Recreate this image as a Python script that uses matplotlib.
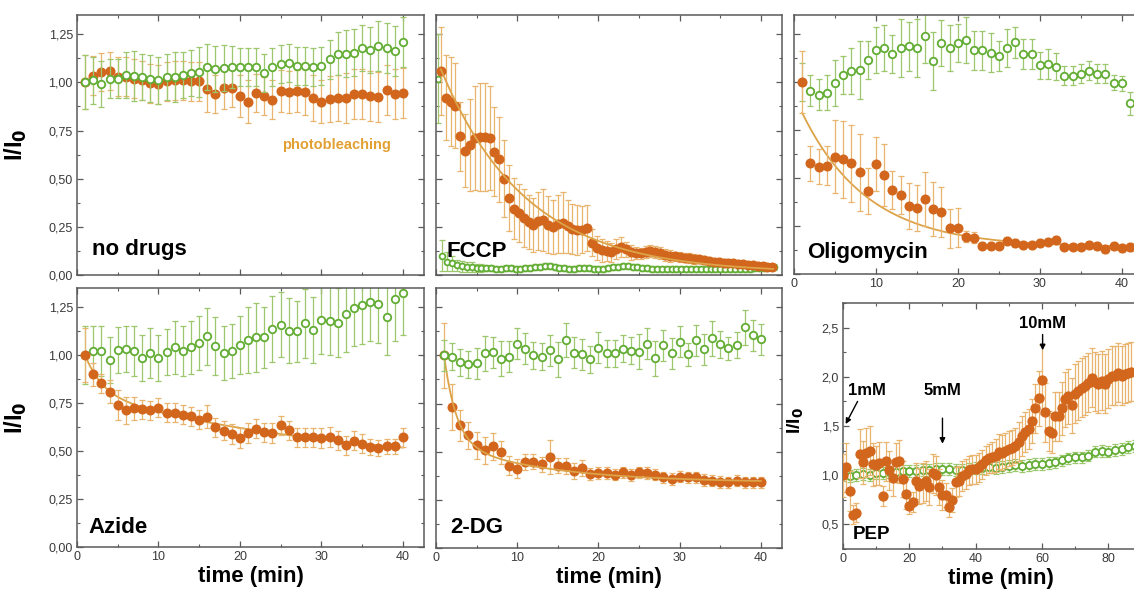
import numpy as np
import matplotlib
matplotlib.use("Agg")
import matplotlib.pyplot as plt
from matplotlib.ticker import MultipleLocator, FuncFormatter

plt.rcParams['font.family'] = ['Liberation Sans', 'DejaVu Sans']

ORANGE = '#d2661c'
ORANGE_ERR = '#e9b46e'
GREEN = '#62ad34'
GREEN_ERR = '#9cc76c'
FIT = '#dca348'
FRAME = '#5a5a5a'

# ---------------- data ----------------
t40 = np.arange(1, 41)

nodrug_green = [1.00, 1.01, 0.99, 1.02, 1.02, 1.04, 1.035, 1.03, 1.02, 1.01,
                1.03, 1.03, 1.04, 1.05, 1.055, 1.08, 1.07, 1.075, 1.08, 1.08,
                1.08, 1.08, 1.05, 1.08, 1.095, 1.10, 1.085, 1.085, 1.08, 1.085,
                1.12, 1.15, 1.15, 1.155, 1.18, 1.17, 1.19, 1.18, 1.165, 1.21]
nodrug_green_err = [0.14, 0.12, 0.12, 0.10, 0.10, 0.12, 0.13, 0.12, 0.12, 0.12,
                    0.12, 0.13, 0.12, 0.12, 0.13, 0.12, 0.12, 0.12, 0.11, 0.10,
                    0.10, 0.10, 0.10, 0.10, 0.10, 0.10, 0.10, 0.10, 0.10, 0.10,
                    0.10, 0.11, 0.12, 0.12, 0.12, 0.12, 0.13, 0.13, 0.13, 0.13]
nodrug_orange = [1.00, 1.035, 1.055, 1.06, 1.03, 1.03, 1.02, 1.01, 0.995, 0.99,
                 1.005, 1.01, 1.01, 1.005, 1.005, 0.965, 0.94, 0.97, 0.97, 0.93,
                 0.90, 0.945, 0.93, 0.91, 0.955, 0.95, 0.955, 0.95, 0.92, 0.90,
                 0.915, 0.92, 0.92, 0.94, 0.94, 0.93, 0.925, 0.96, 0.94, 0.945]
nodrug_orange_err = [0.14, 0.10, 0.10, 0.10, 0.10, 0.10, 0.10, 0.10, 0.10, 0.10,
                     0.10, 0.10, 0.10, 0.10, 0.10, 0.12, 0.10, 0.11, 0.10, 0.11,
                     0.11, 0.10, 0.10, 0.10, 0.11, 0.11, 0.11, 0.12, 0.12, 0.11,
                     0.12, 0.12, 0.13, 0.13, 0.13, 0.13, 0.13, 0.13, 0.13, 0.13]

fccp_step = 0.6
fccp_orange = [1.06, 0.92, 0.90, 0.88, 0.72, 0.645, 0.675, 0.71, 0.717, 0.717,
               0.71, 0.64, 0.60, 0.50, 0.40, 0.345, 0.32, 0.295, 0.275, 0.258,
               0.28, 0.285, 0.262, 0.25, 0.264, 0.272, 0.252, 0.24, 0.233, 0.236,
               0.245, 0.168, 0.14, 0.128, 0.125, 0.118, 0.135, 0.145, 0.133, 0.118,
               0.114, 0.112, 0.12, 0.126, 0.12, 0.114, 0.105, 0.10, 0.097, 0.094,
               0.09, 0.087, 0.084, 0.081, 0.077, 0.073, 0.07, 0.067, 0.064, 0.062,
               0.06, 0.057, 0.055, 0.052, 0.05, 0.047, 0.045, 0.043, 0.04]
fccp_orange_err = [0.23, 0.22, 0.23, 0.22, 0.18, 0.19, 0.24, 0.27, 0.28, 0.28,
                   0.27, 0.23, 0.22, 0.20, 0.17, 0.16, 0.15, 0.15, 0.14, 0.14,
                   0.15, 0.16, 0.15, 0.14, 0.15, 0.16, 0.14, 0.13, 0.13, 0.12,
                   0.12, 0.07, 0.06, 0.06, 0.05, 0.05, 0.05, 0.05, 0.04, 0.04,
                   0.03, 0.03, 0.03, 0.03, 0.03, 0.03, 0.03, 0.03, 0.025, 0.025,
                   0.025, 0.025, 0.025, 0.02, 0.02, 0.02, 0.02, 0.02, 0.02, 0.02,
                   0.02, 0.02, 0.015, 0.015, 0.015, 0.015, 0.015, 0.015, 0.015]
fccp_green = [1.02, 0.10, 0.07, 0.06, 0.05, 0.045, 0.04, 0.04, 0.035, 0.035,
              0.035, 0.035, 0.03, 0.03, 0.035, 0.035, 0.03, 0.03, 0.035, 0.035,
              0.04, 0.04, 0.045, 0.045, 0.04, 0.035, 0.035, 0.03, 0.03, 0.035,
              0.035, 0.035, 0.03, 0.03, 0.03, 0.035, 0.04, 0.04, 0.045, 0.045,
              0.04, 0.04, 0.035, 0.035, 0.03, 0.03, 0.03, 0.03, 0.03, 0.03,
              0.03, 0.03, 0.03, 0.03, 0.03, 0.03, 0.03, 0.03, 0.03, 0.03,
              0.03, 0.03, 0.03, 0.03, 0.03, 0.035, 0.035, 0.035, 0.04, 0.04]
fccp_green_err = [0.23, 0.08, 0.05, 0.04, 0.03, 0.03, 0.025, 0.025, 0.02, 0.02] + [0.015] * 60

t41 = np.arange(1, 42)
oligo_orange = [1.00, 0.577, 0.56, 0.565, 0.612, 0.598, 0.577, 0.53, 0.435, 0.574,
                0.516, 0.438, 0.412, 0.356, 0.346, 0.391, 0.339, 0.322, 0.238, 0.242,
                0.195, 0.19, 0.148, 0.148, 0.148, 0.174, 0.16, 0.151, 0.151, 0.163,
                0.169, 0.177, 0.143, 0.143, 0.143, 0.151, 0.146, 0.129, 0.146, 0.134,
                0.139]
oligo_orange_err = [0.16, 0.09, 0.09, 0.10, 0.19, 0.20, 0.20, 0.20, 0.12, 0.14,
                    0.16, 0.10, 0.10, 0.12, 0.12, 0.14, 0.14, 0.13, 0.10, 0.10,
                    0.03, 0.03, 0.02, 0.02, 0.02, 0.02, 0.02, 0.02, 0.02, 0.02,
                    0.02, 0.02, 0.02, 0.02, 0.02, 0.02, 0.02, 0.02, 0.02, 0.02,
                    0.02]
oligo_green = [1.00, 0.956, 0.934, 0.946, 0.998, 1.038, 1.059, 1.064, 1.116, 1.168,
               1.177, 1.147, 1.177, 1.186, 1.177, 1.241, 1.111, 1.203, 1.18, 1.203,
               1.22, 1.165, 1.165, 1.154, 1.137, 1.177, 1.208, 1.146, 1.146, 1.087,
               1.095, 1.081, 1.034, 1.034, 1.043, 1.059, 1.043, 1.043, 0.998, 0.994,
               0.89]
oligo_green_err = [0.10, 0.08, 0.08, 0.09, 0.12, 0.10, 0.12, 0.15, 0.10, 0.12,
                   0.12, 0.10, 0.15, 0.13, 0.15, 0.14, 0.15, 0.12, 0.12, 0.10,
                   0.12, 0.10, 0.10, 0.10, 0.08, 0.10, 0.08, 0.08, 0.08, 0.07,
                   0.08, 0.07, 0.05, 0.05, 0.05, 0.05, 0.05, 0.05, 0.04, 0.04,
                   0.06]

azide_orange = [1.00, 0.90, 0.853, 0.81, 0.74, 0.713, 0.722, 0.717, 0.713, 0.726,
                0.70, 0.70, 0.69, 0.682, 0.664, 0.678, 0.624, 0.607, 0.589, 0.568,
                0.594, 0.617, 0.598, 0.594, 0.635, 0.608, 0.572, 0.572, 0.572, 0.568,
                0.573, 0.556, 0.53, 0.554, 0.538, 0.521, 0.516, 0.524, 0.524, 0.572]
azide_orange_err = [0.14, 0.06, 0.05, 0.06, 0.08, 0.07, 0.06, 0.05, 0.05, 0.05,
                    0.05, 0.05, 0.05, 0.05, 0.05, 0.06, 0.05, 0.05, 0.05, 0.05,
                    0.05, 0.05, 0.05, 0.05, 0.05, 0.05, 0.05, 0.05, 0.05, 0.05,
                    0.05, 0.05, 0.05, 0.05, 0.05, 0.04, 0.04, 0.04, 0.04, 0.05]
azide_green = [1.00, 1.023, 1.023, 0.974, 1.026, 1.031, 1.023, 0.983, 1.01, 0.984,
               1.014, 1.04, 1.023, 1.04, 1.063, 1.098, 1.049, 1.01, 1.023, 1.054,
               1.079, 1.093, 1.093, 1.136, 1.159, 1.128, 1.124, 1.166, 1.131, 1.184,
               1.18, 1.168, 1.215, 1.247, 1.259, 1.276, 1.264, 1.201, 1.294, 1.325]
azide_green_err = [0.15, 0.13, 0.13, 0.12, 0.12, 0.12, 0.13, 0.12, 0.13, 0.12,
                   0.12, 0.14, 0.13, 0.14, 0.14, 0.15, 0.15, 0.14, 0.14, 0.15,
                   0.17, 0.18, 0.16, 0.17, 0.17, 0.17, 0.16, 0.18, 0.17, 0.18,
                   0.18, 0.18, 0.20, 0.20, 0.20, 0.20, 0.20, 0.20, 0.22, 0.22]

dg_orange = [1.00, 0.734, 0.638, 0.586, 0.533, 0.507, 0.528, 0.498, 0.428, 0.411,
             0.446, 0.449, 0.434, 0.472, 0.428, 0.425, 0.399, 0.416, 0.385, 0.388,
             0.388, 0.381, 0.393, 0.379, 0.393, 0.388, 0.381, 0.367, 0.358, 0.371,
             0.367, 0.367, 0.353, 0.35, 0.344, 0.341, 0.35, 0.341, 0.341, 0.341]
dg_orange_err = [0.17, 0.12, 0.08, 0.07, 0.07, 0.07, 0.07, 0.06, 0.05, 0.05,
                 0.04, 0.04, 0.04, 0.09, 0.04, 0.04, 0.04, 0.04, 0.03, 0.03,
                 0.03, 0.03, 0.03, 0.03, 0.03, 0.03, 0.03, 0.03, 0.03, 0.03,
                 0.03, 0.03, 0.03, 0.03, 0.03, 0.03, 0.03, 0.03, 0.03, 0.03]
dg_green = [1.00, 0.993, 0.965, 0.953, 0.958, 1.01, 1.017, 0.983, 0.993, 1.061,
            1.035, 1.00, 0.993, 1.026, 0.979, 1.08, 1.014, 1.005, 0.979, 1.04,
            1.01, 1.01, 1.035, 1.023, 1.019, 1.061, 0.984, 1.052, 1.01, 1.071,
            1.005, 1.078, 1.031, 1.089, 1.058, 1.037, 1.054, 1.145, 1.105, 1.084]
dg_green_err = [0.08, 0.07, 0.07, 0.07, 0.08, 0.09, 0.08, 0.09, 0.08, 0.08,
                0.08, 0.07, 0.07, 0.08, 0.09, 0.09, 0.08, 0.08, 0.07, 0.08,
                0.07, 0.07, 0.07, 0.07, 0.09, 0.08, 0.09, 0.08, 0.08, 0.08,
                0.06, 0.08, 0.08, 0.09, 0.07, 0.06, 0.07, 0.09, 0.08, 0.08]

pep_orange_t = np.arange(0, 88)
pep_orange = [1.00, 1.08, 0.84, 0.60, 0.62, 1.22, 1.13, 1.23, 1.25, 1.11,
              1.10, 1.12, 0.79, 1.14, 1.05, 0.97, 1.13, 1.14, 0.96, 0.81,
              0.69, 0.73, 0.94, 0.89, 0.92, 0.94, 0.88, 1.02, 1.00, 0.88,
              0.80, 0.80, 0.68, 0.75, 0.93, 0.94, 0.99, 1.01, 1.05, 1.06,
              1.06, 1.08, 1.11, 1.15, 1.17, 1.18, 1.20, 1.24, 1.23, 1.25,
              1.27, 1.28, 1.30, 1.34, 1.40, 1.44, 1.47, 1.55, 1.68, 1.78,
              1.97, 1.64, 1.45, 1.43, 1.60, 1.60, 1.68, 1.77, 1.80, 1.71,
              1.83, 1.86, 1.89, 1.91, 1.94, 1.99, 1.95, 1.93, 1.96, 1.93,
              1.98, 2.01, 2.01, 2.04, 2.01, 2.03, 2.04, 2.05]
pep_orange_err = [0.22, 0.25, 0.20, 0.10, 0.10, 0.25, 0.22, 0.25, 0.25, 0.22,
                  0.20, 0.22, 0.10, 0.20, 0.20, 0.18, 0.20, 0.22, 0.18, 0.15,
                  0.08, 0.10, 0.18, 0.18, 0.20, 0.20, 0.18, 0.20, 0.20, 0.18,
                  0.15, 0.12, 0.10, 0.12, 0.15, 0.15, 0.15, 0.15, 0.15, 0.15,
                  0.15, 0.15, 0.15, 0.15, 0.15, 0.16, 0.17, 0.18, 0.18, 0.18,
                  0.18, 0.18, 0.18, 0.20, 0.20, 0.20, 0.20, 0.22, 0.25, 0.28,
                  0.35, 0.30, 0.20, 0.20, 0.25, 0.25, 0.27, 0.28, 0.28, 0.28,
                  0.30, 0.30, 0.30, 0.30, 0.30, 0.30, 0.30, 0.30, 0.30, 0.30,
                  0.30, 0.30, 0.30, 0.30, 0.30, 0.30, 0.30, 0.30]
pep_green_t = np.arange(0, 89, 2)
pep_green = [1.00, 0.99, 1.00, 1.01, 1.00, 1.02, 1.02, 1.03, 1.03, 1.04,
             1.04, 1.04, 1.05, 1.05, 1.06, 1.06, 1.06, 1.05, 1.05, 1.06,
             1.07, 1.07, 1.08, 1.07, 1.08, 1.09, 1.10, 1.09, 1.10, 1.11,
             1.11, 1.12, 1.13, 1.15, 1.17, 1.18, 1.18, 1.20, 1.24, 1.25,
             1.24, 1.26, 1.27, 1.29, 1.30]
pep_green_err = [0.06] * 45

# exponential fits: (offset, a1, tau1, a2, tau2, t_start)
fccp_fit = (0.01, 1.12, 10.5, 0.0, 1.0, 0.0)
oligo_fit = (0.14, 0.70, 8.0, 0.0, 1.0, 1.0)
azide_fit = (0.40, 0.20, 2.1, 0.40, 32.0, 1.0)
dg_fit = (0.34, 0.45, 1.5, 0.21, 12.0, 1.0)


def fit_curve(p, t):
    c, a1, tau1, a2, tau2, t0 = p
    return c + a1 * np.exp(-(t - t0) / tau1) + a2 * np.exp(-(t - t0) / tau2)


def comma(decimals):
    return FuncFormatter(lambda v, pos: f'{v:.{decimals}f}'.replace('.', ','))


def style(ax, xmajor, xminor, ymajor, yminor):
    ax.xaxis.set_major_locator(MultipleLocator(xmajor))
    ax.xaxis.set_minor_locator(MultipleLocator(xminor))
    ax.yaxis.set_major_locator(MultipleLocator(ymajor))
    ax.yaxis.set_minor_locator(MultipleLocator(yminor))
    ax.tick_params(which='both', direction='in', top=True, right=True,
                   color=FRAME, labelcolor='#3a3a3a', labelsize=9, pad=3)
    ax.tick_params(which='major', length=4.5, width=0.9)
    ax.tick_params(which='minor', length=2.5, width=0.8)
    for s in ax.spines.values():
        s.set_color(FRAME)
        s.set_linewidth(1.1)


def series(ax, t, y, err, kind, z, ms=6.2):
    if kind == 'orange':
        ax.errorbar(t, y, yerr=err, fmt='none', ecolor=ORANGE_ERR, elinewidth=0.9,
                    capsize=2, capthick=0.9, zorder=z)
        ax.plot(t, y, 'o', color=ORANGE, ms=ms, mec=ORANGE, zorder=z + 0.5)
    else:
        ax.errorbar(t, y, yerr=err, fmt='none', ecolor=GREEN_ERR, elinewidth=0.9,
                    capsize=2, capthick=0.9, zorder=z)
        ax.plot(t, y, 'o', mfc='white', mec=GREEN, mew=1.3, ms=ms - 0.8, zorder=z + 0.5)


fig = plt.figure(figsize=(11.34, 5.94), dpi=100)
W, H = 1134.0, 594.0


def panel(left, top, right, bottom):
    return fig.add_axes([left / W, 1 - bottom / H, (right - left) / W, (bottom - top) / H])


ax1 = panel(77, 15, 424, 275)
ax2 = panel(436, 15, 782, 275)
ax3 = panel(794, 15, 1143, 274)
ax4 = panel(77, 288, 424, 547)
ax5 = panel(436, 288, 782, 548)
ax6 = panel(843, 303, 1158, 549)

for ax in (ax1, ax2, ax3, ax4, ax5):
    ax.set_xlim(0, 42.6)
    ax.set_ylim(0, 1.35)
    style(ax, 10, 5, 0.25, 0.125)
    ax.yaxis.set_major_formatter(comma(2))

# no drugs
series(ax1, t40, nodrug_orange, nodrug_orange_err, 'orange', 2)
series(ax1, t40, nodrug_green, nodrug_green_err, 'green', 3)
ax1.text(31.9, 0.675, 'photobleaching', color='#e2a032', fontsize=10.5,
         fontweight='bold', ha='center', va='center')

# FCCP
t_fo = fccp_step * np.arange(1, len(fccp_orange) + 1)
t_fg = 0.2 + fccp_step * np.arange(len(fccp_green))
series(ax2, t_fg, fccp_green, fccp_green_err, 'green', 2, ms=5.0)
series(ax2, t_fo, fccp_orange, fccp_orange_err, 'orange', 3)
tf = np.linspace(0.6, 41.5, 200)
ax2.plot(tf, fit_curve(fccp_fit, tf), color=FIT, lw=1.3, zorder=5)

# Oligomycin
series(ax3, t41, oligo_green, oligo_green_err, 'green', 2)
series(ax3, t41, oligo_orange, oligo_orange_err, 'orange', 3)
tf = np.linspace(1.0, 41, 200)
ax3.plot(tf, fit_curve(oligo_fit, tf), color=FIT, lw=1.3, zorder=2.8)

# Azide
series(ax4, t40, azide_green, azide_green_err, 'green', 2)
series(ax4, t40, azide_orange, azide_orange_err, 'orange', 3)
tf = np.linspace(1.0, 40, 200)
ax4.plot(tf, fit_curve(azide_fit, tf), color=FIT, lw=1.3, zorder=2.8)

# 2-DG
series(ax5, t40, dg_orange, dg_orange_err, 'orange', 2)
ax5.plot(tf, fit_curve(dg_fit, tf), color=FIT, lw=1.3, zorder=2.8)
series(ax5, t40, dg_green, dg_green_err, 'green', 3)

# panel names
for ax, name, x, y in [(ax1, 'no drugs', 1.8, 0.13), (ax2, 'FCCP', 1.3, 0.12),
                       (ax3, 'Oligomycin', 1.6, 0.11), (ax4, 'Azide', 1.4, 0.10),
                       (ax5, '2-DG', 1.7, 0.105)]:
    ax.text(x, y, name, fontsize=16, fontweight='bold', ha='left', va='center', zorder=10)

for ax in (ax1, ax2):
    ax.tick_params(labelbottom=False)
for ax in (ax2, ax3, ax5):
    ax.tick_params(labelleft=False)

ylab = 'I/I$_\\mathbf{0}$'
for ax in (ax1, ax4):
    ax.set_ylabel(ylab, fontsize=17, fontweight='bold')
    ax.yaxis.set_label_coords(-0.138, 0.5)
for ax in (ax4, ax5):
    ax.set_xlabel('time (min)', fontsize=16, fontweight='bold', labelpad=2)

# PEP
ax6.set_xlim(0, 95)
ax6.set_ylim(0.25, 2.75)
style(ax6, 20, 10, 0.5, 0.25)
ax6.yaxis.set_major_formatter(comma(1))
series(ax6, pep_green_t, pep_green, pep_green_err, 'green', 2, ms=6.0)
series(ax6, pep_orange_t, pep_orange, pep_orange_err, 'orange', 3, ms=6.4)
ax6.set_ylabel(ylab, fontsize=14, fontweight='bold')
ax6.yaxis.set_label_coords(-0.118, 0.524)
ax6.set_xlabel('time (min)', fontsize=16, fontweight='bold', labelpad=2)
ax6.text(2.8, 0.40, 'PEP', fontsize=13.5, fontweight='bold', ha='left', va='center')

arrow = dict(arrowstyle='-|>', color='black', lw=1.0, mutation_scale=8, shrinkA=0, shrinkB=0)
ax6.text(7.2, 1.86, '1mM', fontsize=12, fontweight='bold', ha='center', va='center')
ax6.annotate('', xy=(0.8, 1.52), xytext=(4.4, 1.75), arrowprops=arrow)
ax6.text(30, 1.86, '5mM', fontsize=12, fontweight='bold', ha='center', va='center')
ax6.annotate('', xy=(30, 1.32), xytext=(30, 1.58), arrowprops=arrow)
ax6.text(60.3, 2.54, '10mM', fontsize=12, fontweight='bold', ha='center', va='center')
ax6.annotate('', xy=(60.2, 2.27), xytext=(60.2, 2.43), arrowprops=arrow)

fig.savefig('out.png', dpi=100)
